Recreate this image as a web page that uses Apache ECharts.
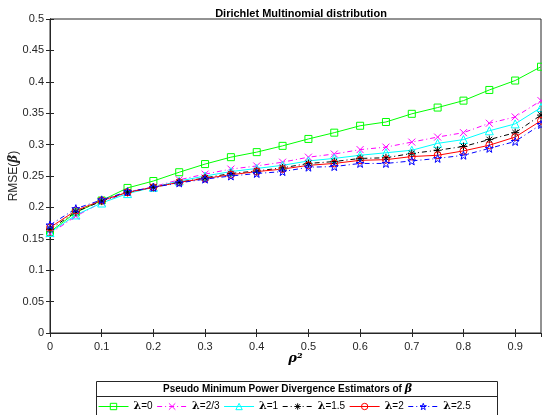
<!DOCTYPE html>
<html>
<head>
<meta charset="utf-8">
<script src="https://cdn.jsdelivr.net/npm/echarts@6/dist/echarts.min.js"></script>
<style>
  html, body { margin: 0; padding: 0; background: #fff; }
  #chart { width: 542px; height: 415px; }
</style>
</head>
<body>
<div id="chart"></div>
<script>
// rho^2 values
const rho2 = [0, 0.05, 0.1, 0.15, 0.2, 0.25, 0.3, 0.35, 0.4, 0.45, 0.5, 0.55, 0.6, 0.65, 0.7, 0.75, 0.8, 0.85, 0.9, 0.95]

// RMSE for each lambda
const lam0   = [0.161, 0.192, 0.211, 0.231, 0.242, 0.256, 0.269, 0.280, 0.288, 0.298, 0.309, 0.319, 0.330, 0.336, 0.349, 0.359, 0.370, 0.387, 0.402, 0.424]
const lam23  = [0.158, 0.186, 0.208, 0.224, 0.233, 0.244, 0.253, 0.261, 0.266, 0.272, 0.280, 0.285, 0.292, 0.296, 0.304, 0.312, 0.319, 0.334, 0.344, 0.370]
const lam1   = [0.160, 0.188, 0.207, 0.222, 0.232, 0.242, 0.250, 0.257, 0.262, 0.267, 0.274, 0.278, 0.283, 0.287, 0.291, 0.302, 0.308, 0.322, 0.333, 0.359]
const lam15  = [0.165, 0.193, 0.210, 0.224, 0.232, 0.240, 0.247, 0.254, 0.258, 0.263, 0.270, 0.273, 0.278, 0.279, 0.286, 0.291, 0.297, 0.308, 0.319, 0.347]
const lam2   = [0.168, 0.195, 0.211, 0.224, 0.232, 0.240, 0.246, 0.252, 0.257, 0.261, 0.267, 0.270, 0.275, 0.276, 0.281, 0.283, 0.290, 0.299, 0.312, 0.338]
const lam25  = [0.172, 0.198, 0.212, 0.225, 0.232, 0.239, 0.245, 0.250, 0.254, 0.257, 0.264, 0.265, 0.270, 0.270, 0.274, 0.278, 0.283, 0.294, 0.305, 0.332]

const names = ['λ=0', 'λ=2/3', 'λ=1', 'λ=1.5', 'λ=2', 'λ=2.5']
const colors = ['#00ff00', '#ff00ff', '#00ffff', '#000000', '#ff0000', '#0000ff']

const FONT = 'Liberation Sans, Arial, sans-serif'
const dashDot = [5, 3, 1, 3]

const starPath = 'path://M0,-10L2.35,-3.24L9.51,-3.09L3.8,1.24L5.88,8.09L0,4L-5.88,8.09L-3.8,1.24L-9.51,-3.09L-2.35,-3.24Z'
const crossPath = 'path://M-5,-5L5,5M-5,5L5,-5'
const asteriskPath = 'path://M-5,0L5,0M0,-5L0,5M-3.5,-3.5L3.5,3.5M-3.5,3.5L3.5,-3.5'

const pairs = (ys) => rho2.map((x, i) => [x, ys[i]])

// MATLAB style markers: hollow, thin outline
const mkSeries = (name, ys, color, symbol, size, dash) => ({
  name: name,
  type: 'line',
  data: pairs(ys),
  symbol: symbol,
  symbolSize: size,
  showSymbol: true,
  lineStyle: { color: color, width: 1, type: dash },
  itemStyle: { color: 'rgba(255,255,255,0)', borderColor: color, borderWidth: 1 },
  emphasis: { disabled: true },
  animation: false
})

const chart = echarts.init(document.getElementById('chart'))

const option = {
  animation: false,
  title: {
    text: 'Dirichlet Multinomial distribution',
    left: 296,
    textAlign: 'center',
    top: 3,
    textStyle: { fontFamily: FONT, fontSize: 11, fontWeight: 'bold', color: '#000' }
  },
  grid: {
    left: 50, right: 1, top: 19, bottom: 82,
    outerBoundsMode: 'none',
    containLabel: false,
    show: true, borderColor: '#262626', borderWidth: 1
  },
  xAxis: [
    {
      type: 'value', min: 0, max: 0.95, interval: 0.1,
      axisLine: { lineStyle: { color: '#262626' } },
      axisTick: { inside: true, length: 4, lineStyle: { color: '#262626' } },
      axisLabel: { color: '#262626', fontFamily: FONT, fontSize: 11, margin: 8, showMaxLabel: false },
      splitLine: { show: false },
      name: 'ρ²',
      nameLocation: 'middle',
      nameGap: 19,
      nameMoveOverlap: false,
      nameTextStyle: { fontFamily: 'DejaVu Serif, serif', fontSize: 13, fontWeight: 'bold', fontStyle: 'italic', color: '#000' }
    },
    {
      type: 'value', min: 0, max: 0.95, interval: 0.1, position: 'top',
      axisLine: { lineStyle: { color: '#262626' } },
      axisTick: { inside: true, length: 4, lineStyle: { color: '#262626' } },
      axisLabel: { show: false },
      splitLine: { show: false }
    }
  ],
  yAxis: [
    {
      type: 'value', min: 0, max: 0.5, interval: 0.05,
      axisLine: { show: true, lineStyle: { color: '#262626' } },
      axisTick: { show: true, inside: true, length: 4, lineStyle: { color: '#262626' } },
      axisLabel: { color: '#262626', fontFamily: FONT, fontSize: 11, margin: 6 },
      splitLine: { show: false },
      name: '{n|RMSE(}{b|β}{n|)}',
      nameLocation: 'middle',
      nameGap: 30,
      nameMoveOverlap: false,
      nameRotate: 90,
      nameTextStyle: {
        rich: {
          n: { fontFamily: FONT, fontSize: 12, color: '#262626' },
          b: { fontFamily: 'DejaVu Serif, serif', fontSize: 12, fontWeight: 'bold', fontStyle: 'italic', color: '#262626' }
        }
      }
    },
    {
      type: 'value', min: 0, max: 0.5, interval: 0.05, position: 'right',
      axisLine: { show: true, lineStyle: { color: '#262626' } },
      axisTick: { show: true, inside: true, length: 4, lineStyle: { color: '#262626' } },
      axisLabel: { show: false },
      splitLine: { show: false }
    }
  ],
  legend: {
    data: names.map((n, i) => ({
      name: n,
      itemStyle: { color: 'rgba(255,255,255,0)', borderColor: colors[i], borderWidth: 1 }
    })),
    left: 98,
    top: 401,
    itemWidth: 30,
    itemHeight: 8,
    itemGap: 4,
    padding: 0,
    selectedMode: false,
    lineStyle: { width: 1 },
    formatter: (n) => '{b|λ}' + n.slice(1),
    textStyle: {
      fontFamily: FONT, fontSize: 10, color: '#000',
      rich: {
        b: { fontFamily: 'DejaVu Serif, serif', fontSize: 11, fontWeight: 'bold', color: '#000' }
      }
    }
  },
  graphic: [
    {
      type: 'rect',
      shape: { x: 96.5, y: 381.5, width: 401, height: 40 },
      style: { fill: 'none', stroke: '#262626', lineWidth: 1 },
      z: 1
    },
    {
      type: 'line',
      shape: { x1: 96.5, y1: 396.5, x2: 497.5, y2: 396.5 },
      style: { stroke: '#262626', lineWidth: 1 },
      z: 1
    },
    {
      type: 'text',
      left: 163,
      top: 384,
      style: {
        text: '{t|Pseudo Minimum Power Divergence Estimators of }{b|β}',
        rich: {
          t: { fontFamily: FONT, fontSize: 10, fontWeight: 'bold', fill: '#000' },
          b: { fontFamily: 'DejaVu Serif, serif', fontSize: 11, fontWeight: 'bold', fontStyle: 'italic', fill: '#000' }
        }
      },
      z: 2
    }
  ],
  series: [
    mkSeries(names[0], lam0, colors[0], 'rect', 7, 'solid'),
    mkSeries(names[1], lam23, colors[1], crossPath, 7, dashDot),
    mkSeries(names[2], lam1, colors[2], 'triangle', 8, 'solid'),
    mkSeries(names[3], lam15, colors[3], asteriskPath, 8, dashDot),
    mkSeries(names[4], lam2, colors[4], 'circle', 7, 'solid'),
    mkSeries(names[5], lam25, colors[5], starPath, 8, dashDot)
  ]
}

chart.setOption(option)
</script>
</body>
</html>
